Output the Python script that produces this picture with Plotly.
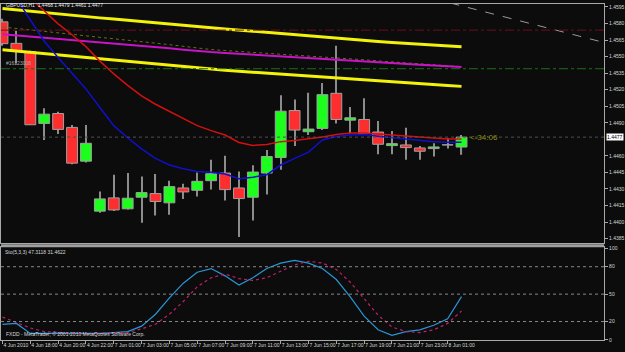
import plotly.graph_objects as go

# ---------------- data ----------------
bar_times = ["4 Jun 16:00", "4 Jun 17:00", "4 Jun 18:00", "4 Jun 19:00", "4 Jun 20:00", "4 Jun 21:00",
             "4 Jun 22:00", "7 Jun 00:00", "7 Jun 01:00", "7 Jun 02:00", "7 Jun 03:00", "7 Jun 04:00",
             "7 Jun 05:00", "7 Jun 06:00", "7 Jun 07:00", "7 Jun 08:00", "7 Jun 09:00", "7 Jun 10:00",
             "7 Jun 11:00", "7 Jun 12:00", "7 Jun 13:00", "7 Jun 14:00", "7 Jun 15:00", "7 Jun 16:00",
             "7 Jun 17:00", "7 Jun 18:00", "7 Jun 19:00", "7 Jun 20:00", "7 Jun 21:00", "7 Jun 22:00",
             "7 Jun 23:00", "8 Jun 00:00", "8 Jun 01:00", "8 Jun 02:00"]

opens = [1.45815, 1.45620, 1.45545, 1.44894, 1.44984, 1.44858, 1.44552, 1.44099, 1.44219, 1.44120,
         1.44225, 1.44258, 1.44174, 1.44309, 1.44288, 1.44375, 1.44444, 1.44309, 1.44225, 1.44444,
         1.44585, 1.45011, 1.44819, 1.44849, 1.45167, 1.44924, 1.44930, 1.44816, 1.44693, 1.44699,
         1.44672, 1.44666, 1.44699, 1.44680]
highs = [1.45842, 1.45734, 1.45554, 1.45032, 1.44999, 1.44879, 1.44879, 1.44276, 1.44429, 1.44444,
         1.44414, 1.44435, 1.44375, 1.44348, 1.44450, 1.44564, 1.44600, 1.44459, 1.44516, 1.44654,
         1.45149, 1.45110, 1.45173, 1.45260, 1.45599, 1.45044, 1.45122, 1.44915, 1.44825, 1.44855,
         1.44690, 1.44714, 1.44759, 1.44790]
lows = [1.45599, 1.45437, 1.44879, 1.44744, 1.44798, 1.44525, 1.44540, 1.44084, 1.44100, 1.44114,
        1.43994, 1.44060, 1.44066, 1.44210, 1.44231, 1.44294, 1.44195, 1.43865, 1.44015, 1.44249,
        1.44474, 1.44690, 1.44789, 1.44834, 1.44894, 1.44804, 1.44789, 1.44615, 1.44615, 1.44564,
        1.44564, 1.44594, 1.44666, 1.44610]
closes = [1.45617, 1.45549, 1.44882, 1.44978, 1.44840, 1.44534, 1.44714, 1.44210, 1.44110, 1.44216,
          1.44267, 1.44186, 1.44321, 1.44273, 1.44369, 1.44438, 1.44294, 1.44213, 1.44453, 1.44594,
          1.45005, 1.44834, 1.44843, 1.45155, 1.44930, 1.44945, 1.44804, 1.44705, 1.44711, 1.44675,
          1.44642, 1.44681, 1.44700, 1.44770]

ma_yellow_upper = [1.45936, 1.45923, 1.45911, 1.45900, 1.45887, 1.45875, 1.45864, 1.45851, 1.45840, 1.45828,
                   1.45816, 1.45804, 1.45793, 1.45783, 1.45772, 1.45762, 1.45751, 1.45740, 1.45730, 1.45720,
                   1.45709, 1.45699, 1.45688, 1.45677, 1.45667, 1.45657, 1.45646, 1.45636, 1.45628, 1.45621,
                   1.45613, 1.45605, 1.45597, 1.45590]
ma_yellow_lower = [1.45562, 1.45550, 1.45538, 1.45526, 1.45514, 1.45502, 1.45490, 1.45478, 1.45467, 1.45454,
                   1.45442, 1.45431, 1.45418, 1.45406, 1.45394, 1.45385, 1.45376, 1.45367, 1.45358, 1.45349,
                   1.45339, 1.45330, 1.45321, 1.45312, 1.45303, 1.45294, 1.45285, 1.45276, 1.45268, 1.45261,
                   1.45253, 1.45244, 1.45237, 1.45230]
ma_magenta = [1.45703, 1.45693, 1.45682, 1.45671, 1.45661, 1.45650, 1.45640, 1.45630, 1.45619, 1.45608,
              1.45598, 1.45587, 1.45576, 1.45563, 1.45550, 1.45541, 1.45533, 1.45525, 1.45517, 1.45509,
              1.45501, 1.45493, 1.45485, 1.45477, 1.45469, 1.45460, 1.45452, 1.45444, 1.45438, 1.45432,
              1.45425, 1.45419, 1.45413, 1.45406]
ma_olive = [1.45768, 1.45756, 1.45742, 1.45729, 1.45715, 1.45702, 1.45688, 1.45676, 1.45662, 1.45649,
            1.45635, 1.45622, 1.45608, 1.45592, 1.45576, 1.45564, 1.45555, 1.45547, 1.45539, 1.45532,
            1.45523, 1.45515, 1.45507, 1.45499, 1.45490, 1.45480, 1.45471, 1.45461, 1.45451, 1.45442,
            1.45433, 1.45425, 1.45417, 1.45409]
ma_red = [1.46265, 1.46148, 1.46031, 1.45914, 1.45797, 1.45698, 1.45590, 1.45459, 1.45343, 1.45239,
          1.45144, 1.45068, 1.45005, 1.44942, 1.44874, 1.44829, 1.44789, 1.44721, 1.44695, 1.44704,
          1.44729, 1.44739, 1.44753, 1.44771, 1.44794, 1.44807, 1.44807, 1.44798, 1.44786, 1.44777,
          1.44766, 1.44757, 1.44753, 1.44753]
ma_blue = [1.46220, 1.46025, 1.45833, 1.45639, 1.45491, 1.45347, 1.45207, 1.45038, 1.44874, 1.44764,
           1.44663, 1.44577, 1.44517, 1.44483, 1.44459, 1.44451, 1.44435, 1.44393, 1.44406, 1.44429,
           1.44517, 1.44577, 1.44634, 1.44744, 1.44775, 1.44790, 1.44793, 1.44778, 1.44766, 1.44752,
           1.44737, 1.44727, 1.44723, 1.44723]

stoch_main = [17, 18, 7, 7, 6.5, 6.5, 6.5, 7, 8, 9, 15, 28, 46, 62, 74, 78, 70, 60, 68, 78,
              84, 87, 84, 78, 66, 47, 26, 11, 5, 9, 11, 16, 23, 47.3]
stoch_signal = [25, 19, 13, 9, 8, 7, 6.5, 7, 7.5, 8, 12, 17, 28, 42, 58, 68, 72, 67, 65, 68,
                75, 82, 86, 84, 77, 63, 45, 27, 14, 9, 8, 11, 18, 31.5]

tick_bar_index = [0, 2, 4, 6, 8, 10, 12, 14, 16, 18, 20, 22, 24, 26, 28, 30, 32]
tick_labels = ["4 Jun 2010", "4 Jun 18:00", "4 Jun 20:00", "4 Jun 22:00", "7 Jun 01:00", "7 Jun 03:00",
               "7 Jun 05:00", "7 Jun 07:00", "7 Jun 09:00", "7 Jun 11:00", "7 Jun 13:00", "7 Jun 15:00",
               "7 Jun 17:00", "7 Jun 19:00", "7 Jun 21:00", "7 Jun 23:00", "8 Jun 01:00"]

price_ticks = [1.4595, 1.4580, 1.4565, 1.4550, 1.4535, 1.4520, 1.4505, 1.4490,
               1.4460, 1.4445, 1.4430, 1.4415, 1.4400, 1.4385]
stoch_ticks = [0, 20, 50, 80, 100]
stoch_levels = [20, 50, 80]

bid_price = 1.4477
stop_level = 1.4574
order_level = 1.4539
order_label = "#16123008"
trend_x = [32.2, 43.3]
trend_y = [1.45986, 1.45626]

# ---------------- figure ----------------
W, H = 625, 352
BG = "#0b0c0b"
AX = "#a8a8a8"
TXT = "#d8d8d8"
FONT = "Liberation Sans"
XR = 607 / W
idx = list(range(len(bar_times)))

fig = go.Figure()

def line(y, color, width, dash="solid", yaxis="y"):
    fig.add_trace(go.Scatter(x=idx, y=y, mode="lines", line=dict(color=color, width=width, dash=dash),
                             xaxis="x" if yaxis == "y" else "x2", yaxis=yaxis, hoverinfo="skip",
                             showlegend=False))

# horizontal levels
fig.add_hline(y=stop_level, line=dict(color="#6e1020", width=1, dash="dashdot"), xref="x", yref="y")
fig.add_hline(y=order_level, line=dict(color="#1c6e1c", width=1, dash="dashdot"), xref="x", yref="y")
fig.add_hline(y=bid_price, line=dict(color="#505050", width=1, dash="dot"), xref="x", yref="y")

line(ma_olive, "#6e6e14", 1, "dot")
line(ma_yellow_upper, "#f2f20a", 3)
line(ma_yellow_lower, "#f2f20a", 3)
line(ma_magenta, "#c814c8", 2)

fig.add_trace(go.Scatter(x=trend_x, y=trend_y, mode="lines",
                         line=dict(color="#9a9a9a", width=1, dash="dash"),
                         hoverinfo="skip", showlegend=False))

# candles: wicks + bodies as bars
fig.add_trace(go.Bar(x=idx, y=[h - l for h, l in zip(highs, lows)], base=lows, width=0.08,
                     marker=dict(color="#8c8c8c", line=dict(width=0)), hoverinfo="skip",
                     showlegend=False))
body_base = [min(o, c) for o, c in zip(opens, closes)]
body_h = [max(abs(c - o), 0.000005) for o, c in zip(opens, closes)]
body_col = ["#1cff1c" if c >= o else "#ff2e2e" for o, c in zip(opens, closes)]
fig.add_trace(go.Bar(x=idx, y=body_h, base=body_base, width=0.78,
                     marker=dict(color=body_col, line=dict(color="#a0a0a0", width=1)),
                     hoverinfo="skip", showlegend=False))

line(ma_red, "#d40f0f", 1.5)
line(ma_blue, "#1010cc", 1.5)

# stochastic
for lv in stoch_levels:
    fig.add_hline(y=lv, line=dict(color="#8a8a8a", width=1, dash="dot"), xref="x2", yref="y2")
line(stoch_main, "#2a95d8", 1.2, yaxis="y2")
line(stoch_signal, "#c0206a", 1.2, "dot", yaxis="y2")

fig.update_layout(
    width=W, height=H, margin=dict(l=0, r=0, t=0, b=0),
    paper_bgcolor=BG, plot_bgcolor=BG, barmode="overlay",
    font=dict(family=FONT, size=5, color=TXT),
    xaxis=dict(domain=[0, XR], range=[-0.107, 43.25], anchor="y", showticklabels=False, ticks="",
               showgrid=False, zeroline=False, showline=True, mirror=True, linecolor=AX, linewidth=1,
               fixedrange=True),
    yaxis=dict(domain=[1 - 244 / H, 1 - 2 / H], range=[1.43808, 1.45977], side="right", anchor="x",
               tickvals=price_ticks, ticktext=[f"{v:.4f}" for v in price_ticks],
               ticks="outside", ticklen=3, tickcolor=AX, showgrid=False, zeroline=False,
               showline=True, mirror=True, linecolor=AX, linewidth=1, tickfont=dict(size=5, color=TXT)),
    xaxis2=dict(domain=[0, XR], range=[-0.107, 43.25], anchor="y2", matches="x",
                tickvals=tick_bar_index, ticktext=tick_labels, ticks="outside", ticklen=3, tickcolor=AX,
                ticklabelposition="outside right", tickangle=0, tickfont=dict(size=5, color=TXT),
                showgrid=False, zeroline=False, showline=True, mirror=True, linecolor=AX, linewidth=1),
    yaxis2=dict(domain=[1 - 342 / H, 1 - 248 / H], range=[-0.3, 101.4], side="right", anchor="x2",
                tickvals=stoch_ticks, ticktext=[str(v) for v in stoch_ticks], ticks="outside", ticklen=3,
                tickcolor=AX, showgrid=False, zeroline=False, showline=True, mirror=True,
                linecolor=AX, linewidth=1, tickfont=dict(size=5, color=TXT)),
)

# pane separator
fig.add_shape(type="rect", xref="paper", yref="paper", x0=0, x1=XR, y0=1 - 248 / H, y1=1 - 245 / H,
              fillcolor="#a0a0a0", line=dict(width=0), layer="above")

# texts
fig.add_annotation(text="GBPUSD,H1  1.4468 1.4479 1.4461 1.4477", xref="paper", yref="paper",
                   x=4 / W, y=1.0, xanchor="left", yanchor="top", showarrow=False, borderpad=0,
                   yshift=1, font=dict(size=5, color="#e8e8e8"))
fig.add_annotation(text=order_label, xref="paper", yref="y", x=3 / W, y=order_level,
                   xanchor="left", yanchor="bottom", showarrow=False, yshift=1,
                   font=dict(size=5, color="#b0b0b0"))
fig.add_annotation(text="<-34:06", xref="x", yref="y", x=len(idx) - 0.55, y=bid_price,
                   xanchor="left", yanchor="middle", showarrow=False,
                   font=dict(size=8, color="#8c8c12"))
fig.add_annotation(text=f"{bid_price:.4f}", xref="paper", yref="y", x=XR + 2 / W, y=bid_price,
                   xanchor="left", yanchor="middle", showarrow=False, bgcolor="#ffffff",
                   borderpad=0, font=dict(size=5, color="#000000"))
fig.add_annotation(text="Sto(5,3,3) 47.3118 31.4622", xref="paper", yref="paper",
                   x=3 / W, y=1 - 249 / H, xanchor="left", yanchor="top", showarrow=False, borderpad=0,
                   font=dict(size=5, color="#d8d8d8"))
fig.add_annotation(text="FXDD - MetaTrader, © 2001-2010 MetaQuotes Software Corp.", xref="paper",
                   yref="paper", x=3 / W, y=1 - 341 / H, xanchor="left", yanchor="bottom",
                   showarrow=False, font=dict(size=5, color="#d8d8d8"))

fig.write_html("out.html", config={"displayModeBar": False})
